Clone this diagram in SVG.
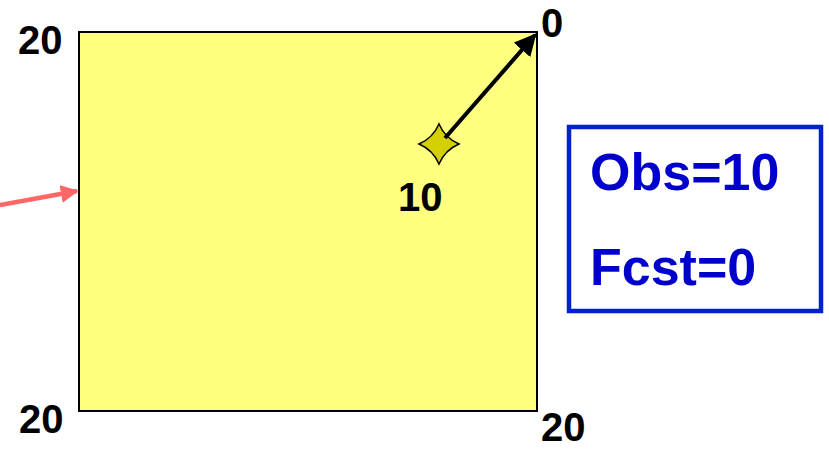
<svg xmlns="http://www.w3.org/2000/svg" width="829" height="450" viewBox="0 0 829 450">
<style>
.num{font-family:"Liberation Sans",Arial,sans-serif;font-weight:bold;font-size:40px;fill:#000}
.box{font-family:"Liberation Sans",Arial,sans-serif;font-weight:bold;font-size:52px;fill:#0000cc}
</style>
<defs>
<marker id="ab" viewBox="0 0 10 10" refX="9" refY="5" markerWidth="5.5" markerHeight="5.5" orient="auto" markerUnits="strokeWidth"><path d="M0,0 L10,5 L0,10 Z" fill="#000"/></marker>
<marker id="ar" viewBox="0 0 10 10" refX="9" refY="5" markerWidth="4" markerHeight="4" orient="auto" markerUnits="strokeWidth"><path d="M0,0 L10,5 L0,10 Z" fill="#ff6666"/></marker>
</defs>
<g id="domain">
<rect x="79" y="32" width="458" height="379" fill="#ffff80" stroke="#000" stroke-width="2"/>
</g>
<g id="labels">
<text class="num" x="18" y="54">20</text>
<text class="num" x="541" y="37">0</text>
<text class="num" x="19" y="433">20</text>
<text class="num" x="541" y="441">20</text>
</g>
<g id="obs">
<path d="M439,124 Q445,138 459,144 Q445,150 439,164 Q433,150 419,144 Q433,138 439,124 Z" fill="#d4cf00" stroke="#000" stroke-width="1.5"/>
<text class="num" x="398" y="211">10</text>
</g>
<g id="connectors">
<line x1="445" y1="138" x2="535" y2="35" stroke="#000" stroke-width="4" marker-end="url(#ab)"/>
<line x1="0" y1="205" x2="77" y2="191" stroke="#ff6666" stroke-width="4.5" marker-end="url(#ar)"/>
</g>
<g id="info">
<rect x="569" y="127" width="252" height="184" fill="#fff" stroke="#0022cc" stroke-width="4.5"/>
<text class="box" x="590" y="190">Obs=10</text>
<text class="box" x="590" y="285">Fcst=0</text>
</g>
</svg>
